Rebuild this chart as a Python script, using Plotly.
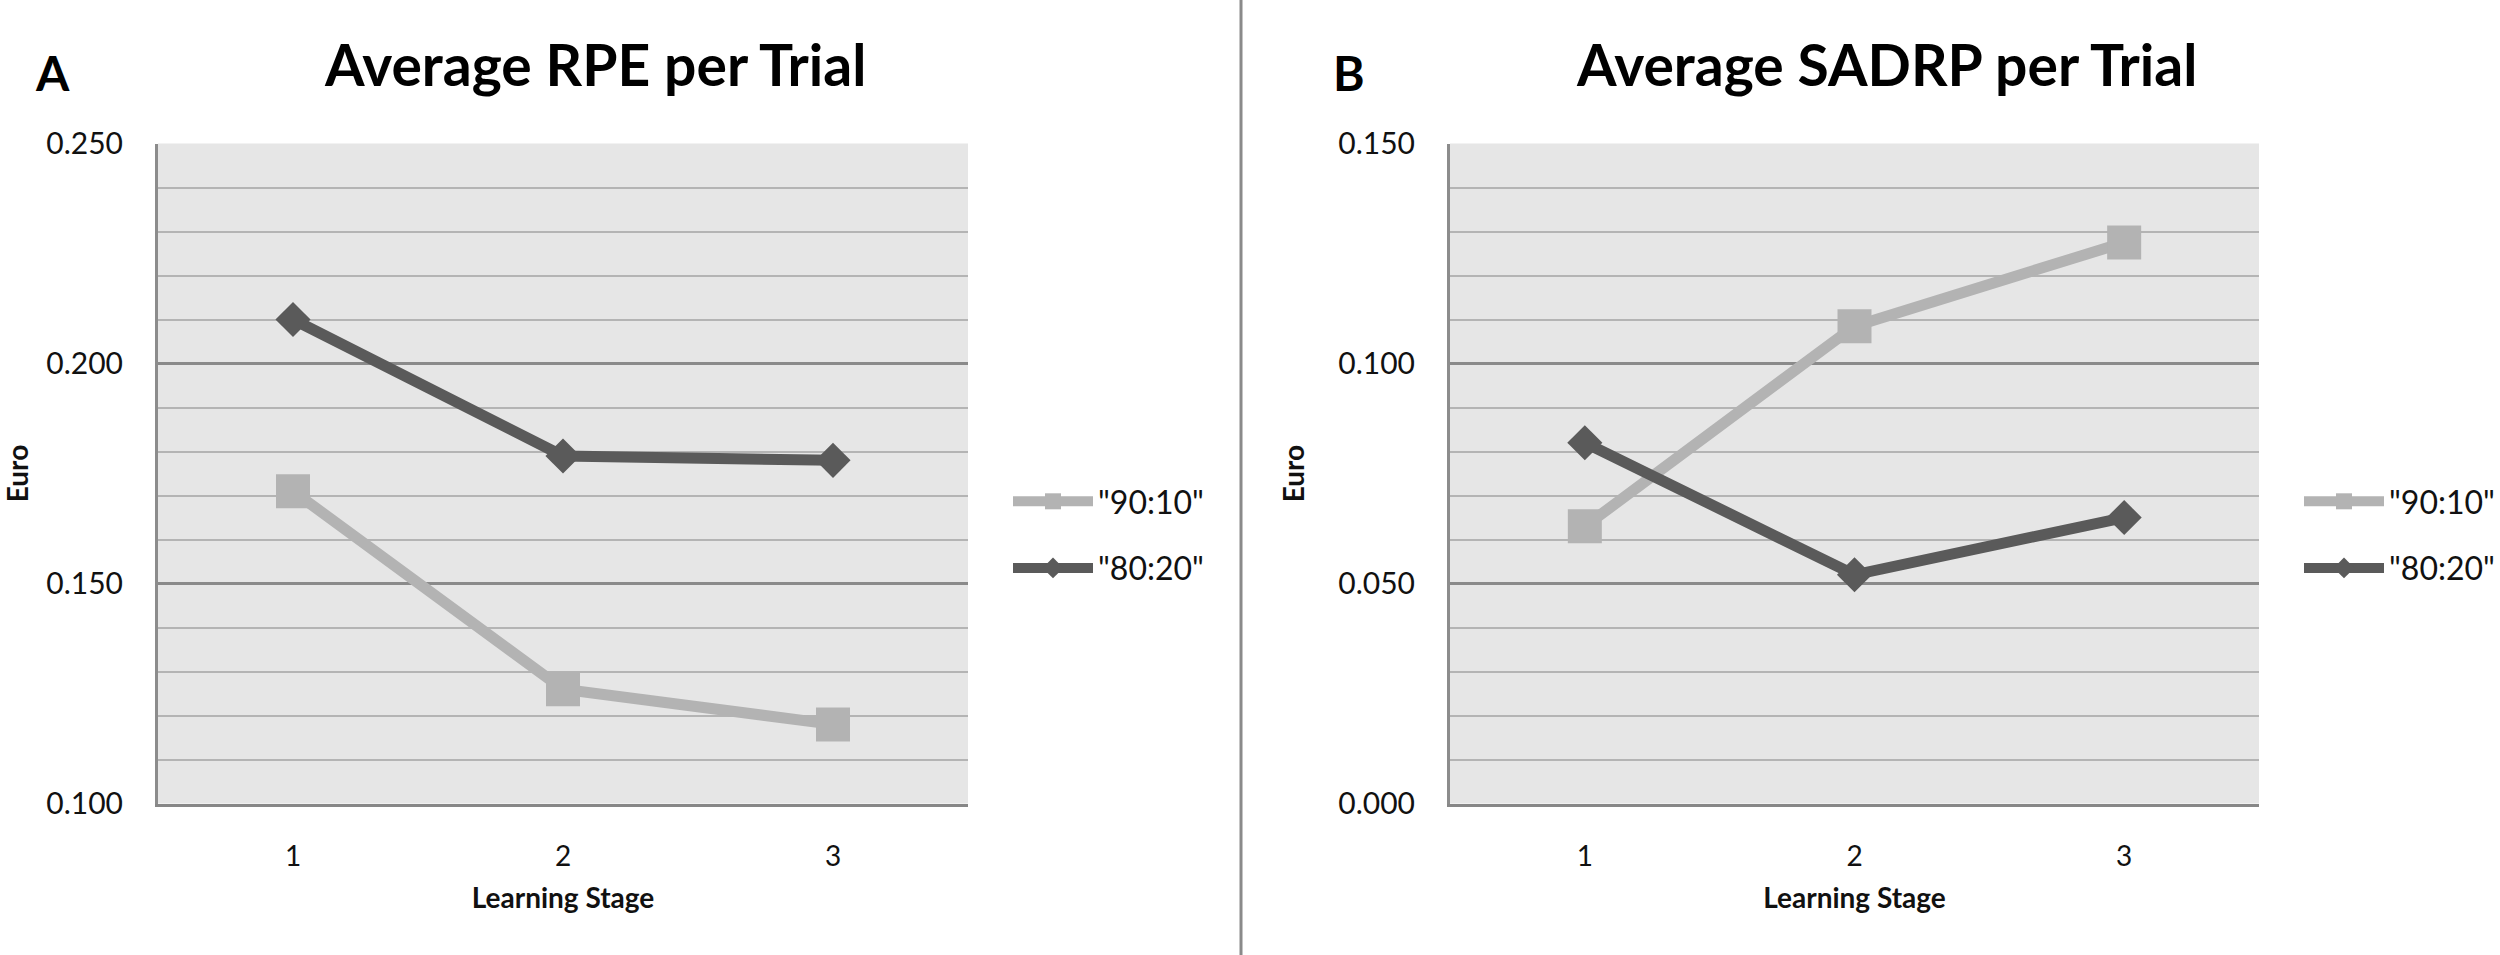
import plotly.graph_objects as go

stages = ["1", "2", "3"]
series_names = ['"90:10"', '"80:20"']

rpe_9010 = [0.171, 0.126, 0.118]
rpe_8020 = [0.210, 0.179, 0.178]

sadrp_9010 = [0.063, 0.1085, 0.1275]
sadrp_8020 = [0.082, 0.052, 0.065]

titles = ["Average RPE per Trial", "Average SADRP per Trial"]
panel_letters = ["A", "B"]
y_ranges = [[0.100, 0.250], [0.000, 0.150]]

W, H = 2500, 955
FONT = "Lato"
LIGHT = "#b3b3b3"
DARK = "#5a5a5a"

fig = go.Figure()

panels = [
    (rpe_9010, rpe_8020, "x", "y", "legend"),
    (sadrp_9010, sadrp_8020, "x2", "y2", "legend2"),
]
for (s1, s2, xa, ya, lg) in panels:
    fig.add_trace(go.Scatter(
        x=stages, y=s1, name=series_names[0], xaxis=xa, yaxis=ya, legend=lg,
        legendgroup=lg + "a", mode="lines+markers",
        line=dict(color=LIGHT, width=11),
        marker=dict(symbol="square", size=34, color=LIGHT),
    ))
    fig.add_trace(go.Scatter(
        x=stages, y=s2, name=series_names[1], xaxis=xa, yaxis=ya, legend=lg,
        legendgroup=lg + "b", mode="lines+markers",
        line=dict(color=DARK, width=11),
        marker=dict(symbol="diamond", size=27, color=DARK),
    ))

px0 = [158, 1450]
px1 = [968, 2259]
ytop, ybot = 143.5, 803.6

def yaxis_cfg(rng):
    return dict(
        domain=[1 - ybot / H, 1 - ytop / H],
        range=rng, dtick=0.05, tick0=0, tickformat=".3f",
        showgrid=True, gridcolor="#8a8a8a", gridwidth=3,
        minor=dict(dtick=0.01, tick0=0, showgrid=True, gridcolor="#b4b4b4", gridwidth=2),
        showline=True, linecolor="#8c8c8c", linewidth=3,
        ticks="", ticklabelstandoff=26, zeroline=False, automargin=False,
        tickfont=dict(family=FONT, size=30, color="#111111"),
        title=dict(text="Euro", font=dict(family=FONT, size=28, weight="bold", color="#111111"), standoff=26),
        fixedrange=True,
    )

def xaxis_cfg(i):
    return dict(
        domain=[px0[i] / W, px1[i] / W],
        type="category", range=[-0.5, 2.5],
        showgrid=False, showline=True, linecolor="#878787", linewidth=3,
        ticks="", ticklabelstandoff=26, zeroline=False, automargin=False,
        tickfont=dict(family=FONT, size=28, color="#111111"),
        title=dict(text="Learning Stage", font=dict(family=FONT, size=28, weight="bold", color="#111111"), standoff=18),
        fixedrange=True,
    )

legend_common = dict(
    yanchor="middle", xanchor="left", y=1 - 535 / H,
    font=dict(family=FONT, size=32, color="#111111"),
    itemwidth=80, tracegroupgap=22, traceorder="grouped",
    bgcolor="rgba(0,0,0,0)", borderwidth=0,
)

fig.update_layout(
    width=W, height=H,
    margin=dict(l=0, r=0, t=0, b=0, autoexpand=False),
    paper_bgcolor="white", plot_bgcolor="#e6e6e6",
    xaxis=xaxis_cfg(0), yaxis=yaxis_cfg(y_ranges[0]),
    xaxis2=dict(xaxis_cfg(1), anchor="y2"), yaxis2=dict(yaxis_cfg(y_ranges[1]), anchor="x2"),
    legend=dict(legend_common, x=1008 / W),
    legend2=dict(legend_common, x=2299 / W),
    showlegend=True,
)

title_cx = [595, 1886]
letter_cx = [52, 1349]
for i in range(2):
    fig.add_annotation(text=titles[i], x=title_cx[i] / W, y=1 - 64 / H, xref="paper", yref="paper",
                       xanchor="center", yanchor="middle", showarrow=False,
                       font=dict(family=FONT, size=57, weight="bold", color="#000000"))
    fig.add_annotation(text=panel_letters[i], x=letter_cx[i] / W, y=1 - 72 / H, xref="paper", yref="paper",
                       xanchor="center", yanchor="middle", showarrow=False,
                       font=dict(family=FONT, size=48, weight="bold", color="#000000"))

fig.add_shape(type="line", xref="paper", yref="paper", x0=1241 / W, x1=1241 / W, y0=0, y1=1,
              line=dict(color="#8a8a8a", width=3))

fig.write_html("out.html", config={"displayModeBar": False},
               post_script="document.body.style.margin='0px';document.body.style.overflow='hidden';")
